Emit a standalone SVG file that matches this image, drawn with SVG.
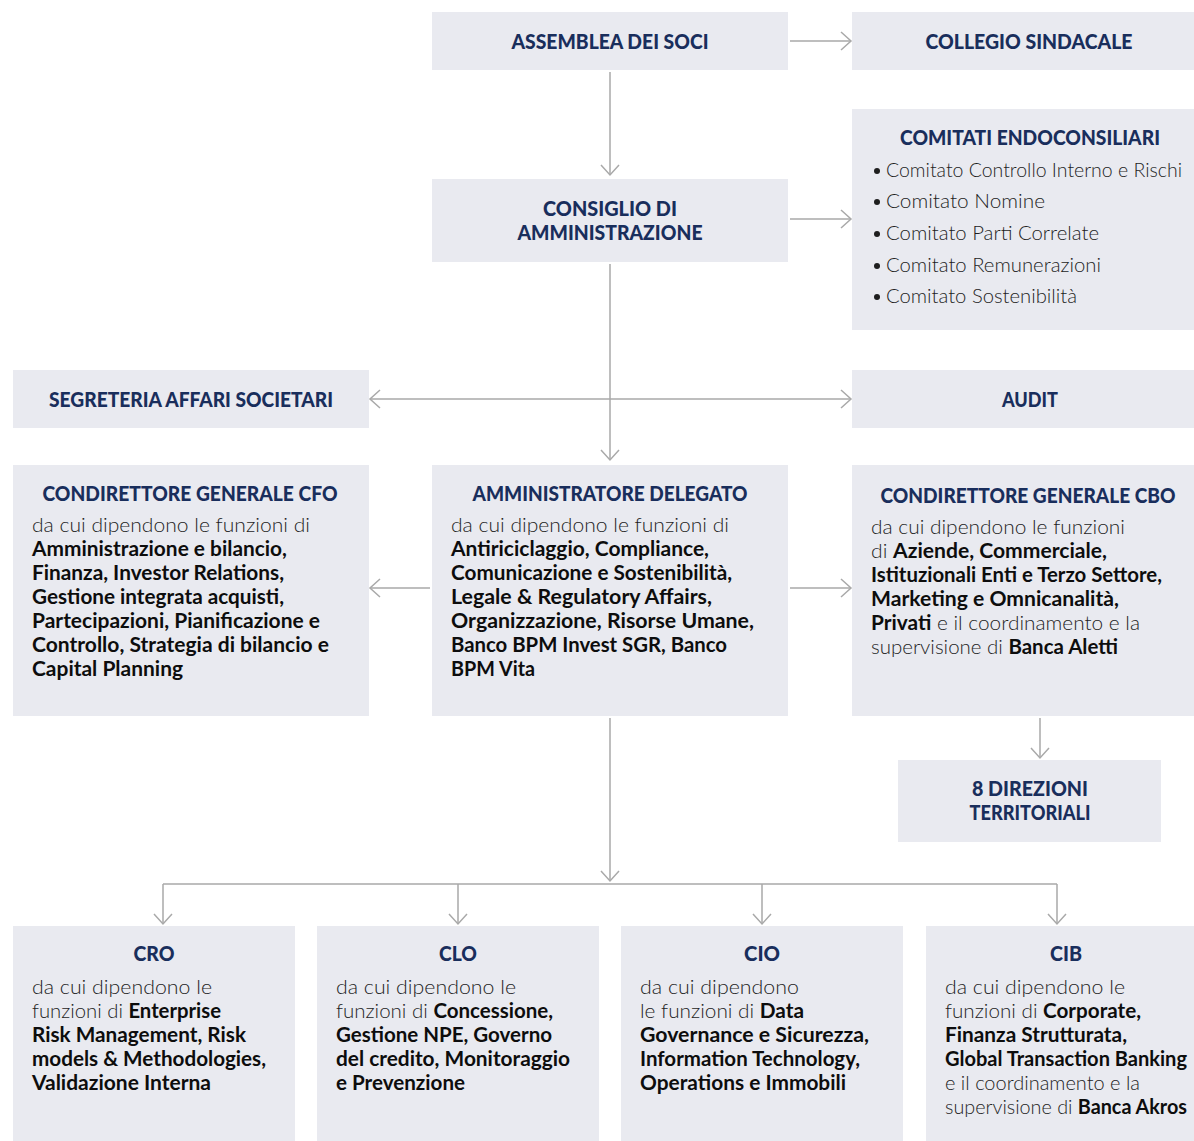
<svg xmlns="http://www.w3.org/2000/svg" width="1194" height="1141" viewBox="0 0 1194 1141">
<defs>
<style>
.box{fill:#e9eaf0}
.t{font-family:Lato,"Liberation Sans",sans-serif;font-weight:900;font-size:21px;fill:#192e5c;text-anchor:middle}
.b{font-family:Lato,"Liberation Sans",sans-serif;font-weight:300;font-size:20.5px;fill:#1e1e1e}
.b tspan.k{font-weight:700;fill:#0d0d0d}
.c{stroke:#a9a9a9;stroke-width:1.5;fill:none}
</style>
<marker id="ah" viewBox="-12 -12 24 24" refX="0" refY="0" markerWidth="24" markerHeight="24" markerUnits="userSpaceOnUse" orient="auto-start-reverse">
<path d="M-10,-9 L0,0 L-10,9" fill="none" stroke="#a9a9a9" stroke-width="1.5"/>
</marker>
</defs>
<rect width="1194" height="1141" fill="#ffffff"/>

<g id="connectors" class="c">
<line x1="790" y1="41" x2="851" y2="41" marker-end="url(#ah)"/>
<line x1="610" y1="72" x2="610" y2="175" marker-end="url(#ah)"/>
<line x1="790" y1="219" x2="851" y2="219" marker-end="url(#ah)"/>
<line x1="610" y1="264" x2="610" y2="460" marker-end="url(#ah)"/>
<line x1="370" y1="399" x2="851" y2="399" marker-start="url(#ah)" marker-end="url(#ah)"/>
<line x1="430" y1="588" x2="370" y2="588" marker-end="url(#ah)"/>
<line x1="790" y1="588" x2="851" y2="588" marker-end="url(#ah)"/>
<line x1="1040" y1="718" x2="1040" y2="758" marker-end="url(#ah)"/>
<line x1="610" y1="718" x2="610" y2="881" marker-end="url(#ah)"/>
<line x1="163" y1="884" x2="1057" y2="884"/>
<line x1="163" y1="884" x2="163" y2="924" marker-end="url(#ah)"/>
<line x1="458" y1="884" x2="458" y2="924" marker-end="url(#ah)"/>
<line x1="762" y1="884" x2="762" y2="924" marker-end="url(#ah)"/>
<line x1="1057" y1="884" x2="1057" y2="924" marker-end="url(#ah)"/>
</g>

<g id="assemblea">
<rect class="box" x="432" y="12" width="356" height="58"/>
<text class="t" x="610" y="49" textLength="197" lengthAdjust="spacingAndGlyphs">ASSEMBLEA DEI SOCI</text>
</g>

<g id="collegio">
<rect class="box" x="852" y="12" width="342" height="58"/>
<text class="t" x="1029" y="49" textLength="207" lengthAdjust="spacingAndGlyphs">COLLEGIO SINDACALE</text>
</g>

<g id="comitati">
<rect class="box" x="852" y="109" width="342" height="221"/>
<text class="t" x="1030" y="145" textLength="260" lengthAdjust="spacingAndGlyphs">COMITATI ENDOCONSILIARI</text>
<g fill="#1e1e1e">
<circle cx="877" cy="171" r="3"/>
<circle cx="877" cy="202" r="3"/>
<circle cx="877" cy="234" r="3"/>
<circle cx="877" cy="266" r="3"/>
<circle cx="877" cy="297" r="3"/>
</g>
<text class="b" x="886" y="177" textLength="296" lengthAdjust="spacingAndGlyphs">Comitato Controllo Interno e Rischi</text>
<text class="b" x="886" y="208" textLength="159" lengthAdjust="spacingAndGlyphs">Comitato Nomine</text>
<text class="b" x="886" y="240" textLength="213" lengthAdjust="spacingAndGlyphs">Comitato Parti Correlate</text>
<text class="b" x="886" y="272" textLength="215" lengthAdjust="spacingAndGlyphs">Comitato Remunerazioni</text>
<text class="b" x="886" y="303" textLength="191" lengthAdjust="spacingAndGlyphs">Comitato Sostenibilità</text>
</g>

<g id="consiglio">
<rect class="box" x="432" y="179" width="356" height="83"/>
<text class="t" x="610" y="216" textLength="134" lengthAdjust="spacingAndGlyphs">CONSIGLIO DI</text>
<text class="t" x="610" y="240" textLength="185" lengthAdjust="spacingAndGlyphs">AMMINISTRAZIONE</text>
</g>

<g id="segreteria">
<rect class="box" x="13" y="370" width="356" height="58"/>
<text class="t" x="191" y="407" textLength="284" lengthAdjust="spacingAndGlyphs">SEGRETERIA AFFARI SOCIETARI</text>
</g>

<g id="audit">
<rect class="box" x="852" y="370" width="342" height="58"/>
<text class="t" x="1030" y="407" textLength="56" lengthAdjust="spacingAndGlyphs">AUDIT</text>
</g>

<g id="cfo">
<rect class="box" x="13" y="465" width="356" height="251"/>
<text class="t" x="190" y="501" textLength="295" lengthAdjust="spacingAndGlyphs">CONDIRETTORE GENERALE CFO</text>
<text class="b" x="32" y="532" textLength="278" lengthAdjust="spacingAndGlyphs">da cui dipendono le funzioni di</text>
<text class="b" x="32" y="556" textLength="255" lengthAdjust="spacingAndGlyphs"><tspan class="k">Amministrazione e bilancio,</tspan></text>
<text class="b" x="32" y="580" textLength="252" lengthAdjust="spacingAndGlyphs"><tspan class="k">Finanza, Investor Relations,</tspan></text>
<text class="b" x="32" y="604" textLength="252" lengthAdjust="spacingAndGlyphs"><tspan class="k">Gestione integrata acquisti,</tspan></text>
<text class="b" x="32" y="628" textLength="288" lengthAdjust="spacingAndGlyphs"><tspan class="k">Partecipazioni, Pianificazione e</tspan></text>
<text class="b" x="32" y="652" textLength="297" lengthAdjust="spacingAndGlyphs"><tspan class="k">Controllo, Strategia di bilancio e</tspan></text>
<text class="b" x="32" y="676" textLength="151" lengthAdjust="spacingAndGlyphs"><tspan class="k">Capital Planning</tspan></text>
</g>

<g id="ad">
<rect class="box" x="432" y="465" width="356" height="251"/>
<text class="t" x="610" y="501" textLength="275" lengthAdjust="spacingAndGlyphs">AMMINISTRATORE DELEGATO</text>
<text class="b" x="451" y="532" textLength="278" lengthAdjust="spacingAndGlyphs">da cui dipendono le funzioni di</text>
<text class="b" x="451" y="556" textLength="258" lengthAdjust="spacingAndGlyphs"><tspan class="k">Antiriciclaggio, Compliance,</tspan></text>
<text class="b" x="451" y="580" textLength="281" lengthAdjust="spacingAndGlyphs"><tspan class="k">Comunicazione e Sostenibilità,</tspan></text>
<text class="b" x="451" y="604" textLength="261" lengthAdjust="spacingAndGlyphs"><tspan class="k">Legale &amp; Regulatory Affairs,</tspan></text>
<text class="b" x="451" y="628" textLength="303" lengthAdjust="spacingAndGlyphs"><tspan class="k">Organizzazione, Risorse Umane,</tspan></text>
<text class="b" x="451" y="652" textLength="276" lengthAdjust="spacingAndGlyphs"><tspan class="k">Banco BPM Invest SGR, Banco</tspan></text>
<text class="b" x="451" y="676" textLength="84" lengthAdjust="spacingAndGlyphs"><tspan class="k">BPM Vita</tspan></text>
</g>

<g id="cbo">
<rect class="box" x="852" y="465" width="342" height="251"/>
<text class="t" x="1028" y="503" textLength="295" lengthAdjust="spacingAndGlyphs">CONDIRETTORE GENERALE CBO</text>
<text class="b" x="871" y="534" textLength="254" lengthAdjust="spacingAndGlyphs">da cui dipendono le funzioni</text>
<text class="b" x="871" y="558" textLength="236" lengthAdjust="spacingAndGlyphs">di <tspan class="k">Aziende, Commerciale,</tspan></text>
<text class="b" x="871" y="582" textLength="291" lengthAdjust="spacingAndGlyphs"><tspan class="k">Istituzionali Enti e Terzo Settore,</tspan></text>
<text class="b" x="871" y="606" textLength="248" lengthAdjust="spacingAndGlyphs"><tspan class="k">Marketing e Omnicanalità,</tspan></text>
<text class="b" x="871" y="630" textLength="269" lengthAdjust="spacingAndGlyphs"><tspan class="k">Privati</tspan> e il coordinamento e la</text>
<text class="b" x="871" y="654" textLength="247" lengthAdjust="spacingAndGlyphs">supervisione di <tspan class="k">Banca Aletti</tspan></text>
</g>

<g id="direzioni">
<rect class="box" x="898" y="760" width="263" height="82"/>
<text class="t" x="1030" y="796" textLength="116" lengthAdjust="spacingAndGlyphs">8 DIREZIONI</text>
<text class="t" x="1030" y="820" textLength="121" lengthAdjust="spacingAndGlyphs">TERRITORIALI</text>
</g>

<g id="cro">
<rect class="box" x="13" y="926" width="282" height="215"/>
<text class="t" x="154" y="961" textLength="41" lengthAdjust="spacingAndGlyphs">CRO</text>
<text class="b" x="32" y="994" textLength="180" lengthAdjust="spacingAndGlyphs">da cui dipendono le</text>
<text class="b" x="32" y="1018" textLength="189" lengthAdjust="spacingAndGlyphs">funzioni di <tspan class="k">Enterprise</tspan></text>
<text class="b" x="32" y="1042" textLength="214" lengthAdjust="spacingAndGlyphs"><tspan class="k">Risk Management, Risk</tspan></text>
<text class="b" x="32" y="1066" textLength="234" lengthAdjust="spacingAndGlyphs"><tspan class="k">models &amp; Methodologies,</tspan></text>
<text class="b" x="32" y="1090" textLength="179" lengthAdjust="spacingAndGlyphs"><tspan class="k">Validazione Interna</tspan></text>
</g>

<g id="clo">
<rect class="box" x="317" y="926" width="282" height="215"/>
<text class="t" x="458" y="961" textLength="38" lengthAdjust="spacingAndGlyphs">CLO</text>
<text class="b" x="336" y="994" textLength="180" lengthAdjust="spacingAndGlyphs">da cui dipendono le</text>
<text class="b" x="336" y="1018" textLength="217" lengthAdjust="spacingAndGlyphs">funzioni di <tspan class="k">Concessione,</tspan></text>
<text class="b" x="336" y="1042" textLength="216" lengthAdjust="spacingAndGlyphs"><tspan class="k">Gestione NPE, Governo</tspan></text>
<text class="b" x="336" y="1066" textLength="234" lengthAdjust="spacingAndGlyphs"><tspan class="k">del credito, Monitoraggio</tspan></text>
<text class="b" x="336" y="1090" textLength="129" lengthAdjust="spacingAndGlyphs"><tspan class="k">e Prevenzione</tspan></text>
</g>

<g id="cio">
<rect class="box" x="621" y="926" width="282" height="215"/>
<text class="t" x="762" y="961" textLength="36" lengthAdjust="spacingAndGlyphs">CIO</text>
<text class="b" x="640" y="994" textLength="159" lengthAdjust="spacingAndGlyphs">da cui dipendono</text>
<text class="b" x="640" y="1018" textLength="164" lengthAdjust="spacingAndGlyphs">le funzioni di <tspan class="k">Data</tspan></text>
<text class="b" x="640" y="1042" textLength="229" lengthAdjust="spacingAndGlyphs"><tspan class="k">Governance e Sicurezza,</tspan></text>
<text class="b" x="640" y="1066" textLength="220" lengthAdjust="spacingAndGlyphs"><tspan class="k">Information Technology,</tspan></text>
<text class="b" x="640" y="1090" textLength="206" lengthAdjust="spacingAndGlyphs"><tspan class="k">Operations e Immobili</tspan></text>
</g>

<g id="cib">
<rect class="box" x="926" y="926" width="268" height="215"/>
<text class="t" x="1066" y="961" textLength="32" lengthAdjust="spacingAndGlyphs">CIB</text>
<text class="b" x="945" y="994" textLength="180" lengthAdjust="spacingAndGlyphs">da cui dipendono le</text>
<text class="b" x="945" y="1018" textLength="196" lengthAdjust="spacingAndGlyphs">funzioni di <tspan class="k">Corporate,</tspan></text>
<text class="b" x="945" y="1042" textLength="182" lengthAdjust="spacingAndGlyphs"><tspan class="k">Finanza Strutturata,</tspan></text>
<text class="b" x="945" y="1066" textLength="242" lengthAdjust="spacingAndGlyphs"><tspan class="k">Global Transaction Banking</tspan></text>
<text class="b" x="945" y="1090" textLength="195" lengthAdjust="spacingAndGlyphs">e il coordinamento e la</text>
<text class="b" x="945" y="1114" textLength="242" lengthAdjust="spacingAndGlyphs">supervisione di <tspan class="k">Banca Akros</tspan></text>
</g>
</svg>
